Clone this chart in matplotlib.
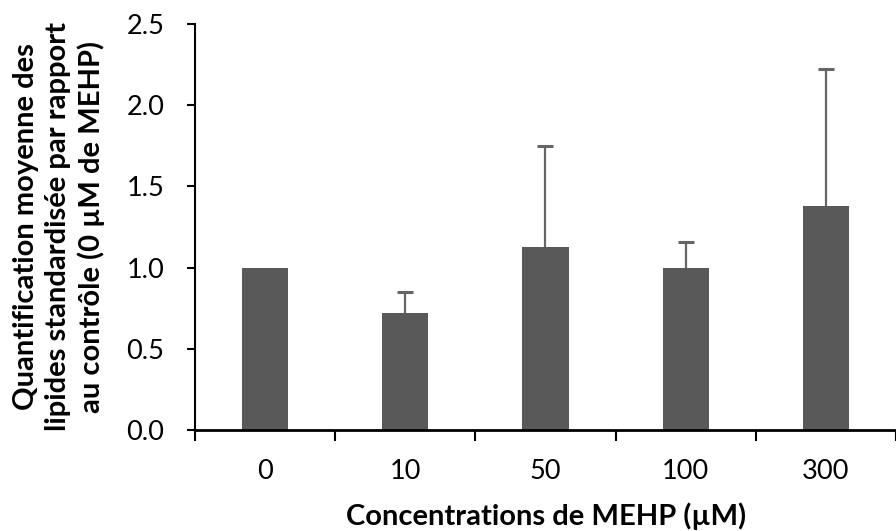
import numpy as np
import matplotlib
matplotlib.use('Agg')
import matplotlib.pyplot as plt

concentrations = ['0', '10', '50', '100', '300']
moyennes = [1.00, 0.72, 1.13, 1.00, 1.38]
erreurs = [0.00, 0.13, 0.62, 0.16, 0.84]

plt.rcParams['font.family'] = ['Lato', 'DejaVu Sans']

fig = plt.figure(figsize=(8.96, 5.31), dpi=100)
ax = fig.add_axes([0.2176, 0.19, 0.7824, 0.765])

x = np.arange(len(concentrations))
vals = np.array(moyennes)
errs = np.array(erreurs)

ax.bar(x, vals, width=0.33, color='#595959', zorder=2)

# upward error bars only
mask = errs > 0
ax.vlines(x[mask], vals[mask], vals[mask] + errs[mask], color='#666666', linewidth=1.6, zorder=3)
ax.plot(x[mask], vals[mask] + errs[mask], linestyle='none', marker='_', markersize=11,
        markeredgewidth=2.2, color='#666666', zorder=3)

ax.set_xlim(-0.5, len(concentrations) - 0.5)
ax.set_ylim(0, 2.5)
ax.set_yticks(np.arange(0, 2.51, 0.5))
ax.set_yticklabels([f'{v:.1f}' for v in np.arange(0, 2.51, 0.5)])

# category labels centred, tick marks between categories
ax.set_xticks(x)
ax.set_xticklabels(concentrations)
ax.tick_params(axis='x', which='major', length=0, pad=21, labelsize=19.5)
ax.set_xticks(np.arange(-0.5, len(concentrations), 1.0), minor=True)
ax.tick_params(axis='x', which='minor', length=8, width=1.5, direction='out')
ax.tick_params(axis='y', length=6, width=1.5, direction='out', labelsize=19.5, pad=16)

for s in ['top', 'right']:
    ax.spines[s].set_visible(False)
ax.spines['left'].set_linewidth(1.5)
ax.spines['bottom'].set_linewidth(2)

fig.text(0.066, 0.573, 'Quantification moyenne des\nlipides standardisée par rapport\nau contrôle (0 µM de MEHP)',
         rotation=90, ha='center', va='center', multialignment='center',
         fontsize=21, fontweight='bold', linespacing=1.3)
fig.text(0.609, 0.012, 'Concentrations de MEHP (µM)', ha='center', va='baseline',
         fontsize=21, fontweight='bold')

fig.savefig('out.png', dpi=100)
